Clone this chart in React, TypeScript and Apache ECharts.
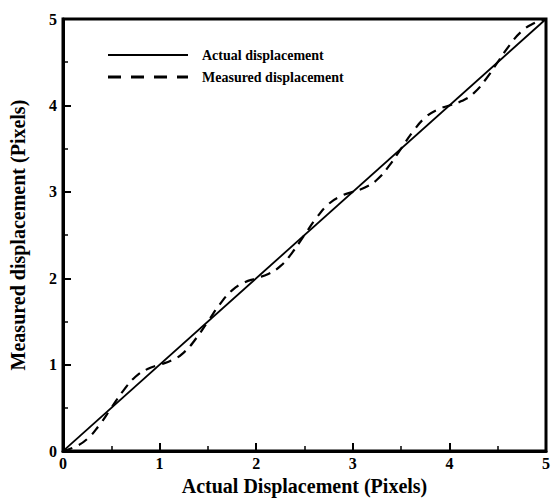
import React, { useEffect, useRef } from "react";
import * as echarts from "echarts";

const xValues = [
  0, 0.125, 0.25, 0.375, 0.5, 0.625, 0.75, 0.875,
  1, 1.125, 1.25, 1.375, 1.5, 1.625, 1.75, 1.875,
  2, 2.125, 2.25, 2.375, 2.5, 2.625, 2.75, 2.875,
  3, 3.125, 3.25, 3.375, 3.5, 3.625, 3.75, 3.875,
  4, 4.125, 4.25, 4.375, 4.5, 4.625, 4.75, 4.875, 5,
];
const actualX = [0, 5];
const actualValues = [0, 5];
const measuredValues = [
  0, 0.05, 0.14, 0.3, 0.5, 0.7, 0.86, 0.95,
  1.0, 1.05, 1.14, 1.3, 1.5, 1.7, 1.86, 1.95,
  2.0, 2.05, 2.14, 2.3, 2.5, 2.7, 2.86, 2.95,
  3.0, 3.05, 3.14, 3.3, 3.5, 3.7, 3.86, 3.95,
  4.0, 4.05, 4.14, 4.3, 4.5, 4.7, 4.86, 4.95, 5.0,
];
const tickLabels = ["0", "1", "2", "3", "4", "5"];
const legendNames = ["Actual displacement", "Measured displacement"];

const FONT = "Liberation Serif";

export default function App() {
  const ref = useRef<HTMLDivElement>(null);
  useEffect(() => {
    if (!ref.current) return;
    const chart = echarts.init(ref.current, undefined, { renderer: "svg" });
    const axisCommon = {
      type: "value" as const,
      min: 0,
      max: 5,
      interval: 1,
      axisLine: { show: true, lineStyle: { color: "#000", width: 3 } },
      axisTick: { show: true, inside: true, length: 8, lineStyle: { color: "#000", width: 2 } },
      minorTick: { show: true, splitNumber: 2, length: 5, lineStyle: { color: "#000", width: 1.5 } },
      splitLine: { show: false },
      axisLabel: {
        color: "#000",
        fontFamily: FONT,
        fontWeight: "bold" as const,
        fontSize: 16,
        formatter: (v: number) => tickLabels[Math.round(v)] ?? String(v),
      },
      nameTextStyle: { color: "#000", fontFamily: FONT, fontWeight: "bold" as const, fontSize: 20 },
    };
    const legendText = {
      fill: "#000",
      fontFamily: FONT,
      fontWeight: "bold" as const,
      fontSize: 14,
      verticalAlign: "middle" as const,
      align: "left" as const,
    };
    chart.setOption({
      animation: false,
      backgroundColor: "#fff",
      grid: {
        left: 63,
        right: 4,
        top: 19,
        bottom: 41,
        show: true,
        borderColor: "#000",
        borderWidth: 3,
        backgroundColor: "transparent",
      },
      graphic: [
        { type: "line", shape: { x1: 108, y1: 55, x2: 188, y2: 55 }, style: { stroke: "#000", lineWidth: 2 } },
        { type: "line", shape: { x1: 108, y1: 77, x2: 188, y2: 77 }, style: { stroke: "#000", lineWidth: 3, lineDash: [13, 10] } },
        { type: "text", x: 202, y: 55, style: { ...legendText, text: legendNames[0] } },
        { type: "text", x: 202, y: 77, style: { ...legendText, text: legendNames[1] } },
      ],
      xAxis: {
        ...axisCommon,
        name: "Actual Displacement (Pixels)",
        nameLocation: "middle",
        nameGap: 20,
        axisLabel: { ...axisCommon.axisLabel, margin: 4 },
      },
      yAxis: {
        ...axisCommon,
        name: "Measured displacement (Pixels)",
        nameLocation: "middle",
        nameGap: 35,
        axisLabel: { ...axisCommon.axisLabel, margin: 6 },
      },
      series: [
        {
          name: legendNames[0],
          type: "line",
          symbol: "none",
          data: actualX.map((x, i) => [x, actualValues[i]]),
          lineStyle: { color: "#000", width: 1.8, type: "solid" },
        },
        {
          name: legendNames[1],
          type: "line",
          symbol: "none",
          smooth: true,
          data: xValues.map((x, i) => [x, measuredValues[i]]),
          lineStyle: { color: "#000", width: 2.2, type: [10, 7] },
        },
      ],
    });
    return () => chart.dispose();
  }, []);
  return (
    <div
      ref={ref}
      style={{ position: "absolute", left: 0, top: 0, width: 553, height: 501, background: "#fff" }}
    />
  );
}
